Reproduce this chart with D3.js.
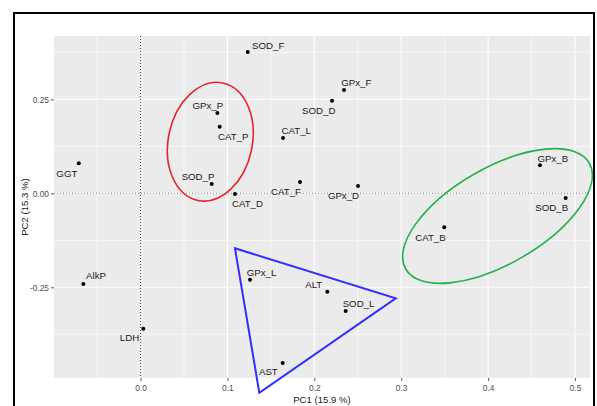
<!DOCTYPE html>
<html>
<head>
<meta charset="utf-8">
<script src="https://cdn.jsdelivr.net/npm/d3@7"></script>
<style>
  html, body { margin: 0; padding: 0; background: #fff; }
  svg { display: block; }
  text { font-family: "Liberation Sans", Arial, sans-serif; }
</style>
</head>
<body>
<script>
// ---------- data ----------
const variables = ["SOD_F","GPx_F","SOD_D","GPx_P","CAT_P","CAT_L","SOD_P","CAT_D","CAT_F","GPx_D",
                   "GGT","AlkP","LDH","GPx_B","SOD_B","CAT_B","GPx_L","ALT","SOD_L","AST"];
const pc1 = [0.1234,0.2342,0.2204,0.0884,0.0911,0.1640,0.0819,0.1087,0.1835,0.2503,
             -0.0711,-0.0658,0.0032,0.4597,0.4893,0.3496,0.1260,0.2150,0.2361,0.1636];
const pc2 = [0.3758,0.2745,0.2463,0.2136,0.1771,0.1470,0.0247,-0.0019,0.0300,0.0194,
             0.0798,-0.2412,-0.3600,0.0745,-0.0125,-0.0904,-0.2298,-0.2617,-0.3130,-0.4513];
// repelled label positions (data units)
const labelPC1 = [0.1470,0.2483,0.2051,0.0774,0.1068,0.1792,0.0662,0.1231,0.1674,0.2336,
                  -0.0848,-0.0512,-0.0127,0.4745,0.4733,0.3337,0.1392,0.1993,0.2509,0.1471];
const labelPC2 = [0.3944,0.2960,0.2215,0.2348,0.1524,0.1665,0.0460,-0.0277,0.0061,-0.0064,
                  0.0532,-0.2199,-0.3848,0.0939,-0.0364,-0.1170,-0.2101,-0.2412,-0.2926,-0.4745];
const xTicks = [0.0,0.1,0.2,0.3,0.4,0.5];
const xTickLabels = ["0.0","0.1","0.2","0.3","0.4","0.5"];
const yTicks = [-0.25,0.0,0.25];
const yTickLabels = ["-0.25","0.00","0.25"];
const xMinor = [-0.05,0.05,0.15,0.25,0.35,0.45];
const yMinor = [-0.375,-0.125,0.125,0.375];
const xTitle = "PC1 (15.9 %)";
const yTitle = "PC2 (15.3 %)";
// hand-drawn group annotations (centres in data units)
const redEllipseCentre = [0.0803, 0.1372];
const greenEllipseCentre = [0.4108, -0.0604];
const blueTriangle = [[0.1087,-0.1463],[0.2937,-0.2793],[0.1367,-0.5303]];

// ---------- layout ----------
const W = 597, H = 406;
const panel = {left: 54, right: 590, top: 36, bottom: 378};

const svg = d3.select("body").append("svg").attr("width", W).attr("height", H);

const x = d3.scaleLinear().domain([-0.0996, 0.5173]).range([panel.left, panel.right]);
const y = d3.scaleLinear().domain([-0.4912, 0.4184]).range([panel.bottom, panel.top]);

// panel background
svg.append("rect")
  .attr("x", panel.left).attr("y", panel.top)
  .attr("width", panel.right - panel.left).attr("height", panel.bottom - panel.top)
  .attr("fill", "#EBEBEB");

const grid = svg.append("g");
// minor grid
grid.selectAll(".vmin").data(xMinor).join("line")
  .attr("x1", d => x(d)).attr("x2", d => x(d))
  .attr("y1", panel.top).attr("y2", panel.bottom)
  .attr("stroke", "#fff").attr("stroke-width", 0.6);
grid.selectAll(".hmin").data(yMinor).join("line")
  .attr("y1", d => y(d)).attr("y2", d => y(d))
  .attr("x1", panel.left).attr("x2", panel.right)
  .attr("stroke", "#fff").attr("stroke-width", 0.6);
// major grid
grid.selectAll(".vmaj").data(xTicks).join("line")
  .attr("x1", d => x(d)).attr("x2", d => x(d))
  .attr("y1", panel.top).attr("y2", panel.bottom)
  .attr("stroke", "#fff").attr("stroke-width", 1.1);
grid.selectAll(".hmaj").data(yTicks).join("line")
  .attr("y1", d => y(d)).attr("y2", d => y(d))
  .attr("x1", panel.left).attr("x2", panel.right)
  .attr("stroke", "#fff").attr("stroke-width", 1.1);

// reference dotted lines at 0
svg.append("line")
  .attr("x1", panel.left).attr("x2", panel.right)
  .attr("y1", y(0)).attr("y2", y(0))
  .attr("stroke", "#8a8a8a").attr("stroke-width", 1).attr("stroke-dasharray", "1,2");
svg.append("line")
  .attr("x1", x(0)).attr("x2", x(0))
  .attr("y1", panel.top).attr("y2", panel.bottom)
  .attr("stroke", "#333").attr("stroke-width", 0.9).attr("stroke-dasharray", "1,2");

// axes
const xAxis = d3.axisBottom(x).tickValues(xTicks).tickFormat((d, i) => xTickLabels[i])
  .tickSize(3).tickPadding(4);
const gx = svg.append("g").attr("transform", `translate(0,${panel.bottom})`).call(xAxis);
gx.select(".domain").remove();
gx.selectAll(".tick line").attr("stroke", "#333").attr("stroke-width", 0.8);
gx.selectAll(".tick text").attr("fill", "#4D4D4D").attr("font-size", 8.4)
  .attr("font-family", "Liberation Sans, Arial, sans-serif");

const yAxis = d3.axisLeft(y).tickValues(yTicks).tickFormat((d, i) => yTickLabels[yTicks.indexOf(d)])
  .tickSize(3).tickPadding(2);
const gy = svg.append("g").attr("transform", `translate(${panel.left},0)`).call(yAxis);
gy.select(".domain").remove();
gy.selectAll(".tick line").attr("stroke", "#333").attr("stroke-width", 0.8);
gy.selectAll(".tick text").attr("fill", "#4D4D4D").attr("font-size", 8.4)
  .attr("font-family", "Liberation Sans, Arial, sans-serif");

// axis titles
svg.append("text")
  .attr("x", (panel.left + panel.right) / 2).attr("y", 403)
  .attr("text-anchor", "middle").attr("font-size", 9.6).attr("fill", "#1a1a1a")
  .text(xTitle);
svg.append("text")
  .attr("transform", `translate(28,${(panel.top + panel.bottom) / 2}) rotate(-90)`)
  .attr("text-anchor", "middle").attr("font-size", 9.6).attr("fill", "#1a1a1a")
  .text(yTitle);

// points
const pts = variables.map((v, i) => ({name: v, x: pc1[i], y: pc2[i], lx: labelPC1[i], ly: labelPC2[i]}));
svg.append("g").selectAll("circle").data(pts).join("circle")
  .attr("cx", d => x(d.x)).attr("cy", d => y(d.y)).attr("r", 2)
  .attr("fill", "#000");

// labels
svg.append("g").selectAll("text").data(pts).join("text")
  .attr("x", d => x(d.lx)).attr("y", d => y(d.ly))
  .attr("text-anchor", "middle").attr("dominant-baseline", "central")
  .attr("font-size", 9.7).attr("fill", "#1a1a1a")
  .text(d => d.name);

// annotations
function ellipse(cx, cy, rx, ry, rot, color) {
  svg.append("ellipse")
    .attr("cx", 0).attr("cy", 0).attr("rx", rx).attr("ry", ry)
    .attr("transform", `translate(${cx},${cy}) rotate(${rot})`)
    .attr("fill", "none").attr("stroke", color).attr("stroke-width", 1.6);
}
ellipse(x(redEllipseCentre[0]), y(redEllipseCentre[1]), 42, 60, 12, "#E3262C");
ellipse(x(greenEllipseCentre[0]), y(greenEllipseCentre[1]), 106, 48, -30, "#22B24C");

svg.append("path")
  .attr("d", d3.line().x(d => x(d[0])).y(d => y(d[1])).curve(d3.curveLinearClosed)(blueTriangle))
  .attr("fill", "none").attr("stroke", "#2E2EFF").attr("stroke-width", 2)
  .attr("stroke-linejoin", "miter");

// outer frame
svg.append("rect")
  .attr("x", 14).attr("y", 13).attr("width", 580).attr("height", 420)
  .attr("fill", "none").attr("stroke", "#000").attr("stroke-width", 2);
</script>
</body>
</html>
